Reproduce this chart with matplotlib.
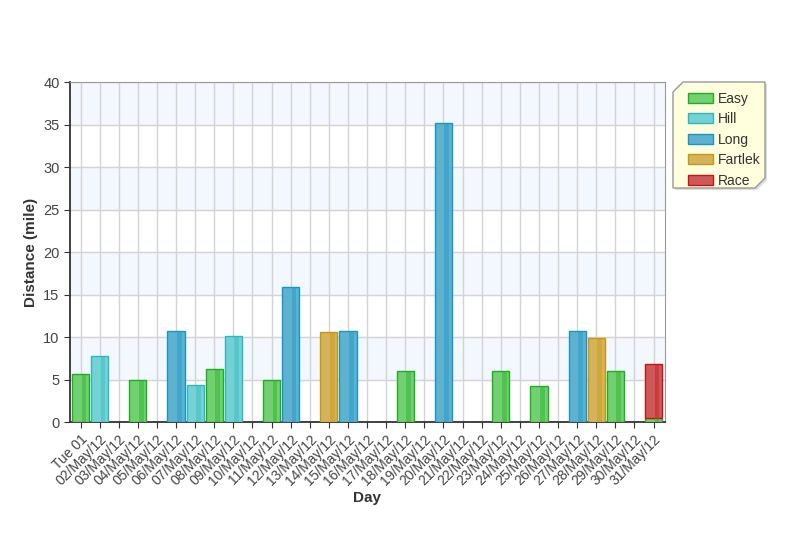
import numpy as np
import matplotlib.pyplot as plt
from matplotlib.patches import Polygon

plt.rcParams['font.family'] = ['Liberation Sans', 'DejaVu Sans']

# Distance per day (miles), by run type
days = ["Tue 01"] + ["%02d/May/12" % d for d in range(2, 32)]
easy    = [5.6, 0, 0, 5.0, 0, 0, 0, 6.2, 0, 0, 5.0, 0, 0, 0, 0, 0, 0, 5.95, 0, 0, 0, 0, 5.95, 0, 4.2, 0, 0, 0, 5.95, 0, 0.5]
hill    = [0, 7.75, 0, 0, 0, 0, 4.4, 0, 10.15, 0, 0, 0, 0, 0, 0, 0, 0, 0, 0, 0, 0, 0, 0, 0, 0, 0, 0, 0, 0, 0, 0]
long_   = [0, 0, 0, 0, 0, 10.7, 0, 0, 0, 0, 0, 15.85, 0, 0, 10.7, 0, 0, 0, 0, 35.2, 0, 0, 0, 0, 0, 0, 10.7, 0, 0, 0, 0]
fartlek = [0, 0, 0, 0, 0, 0, 0, 0, 0, 0, 0, 0, 0, 10.6, 0, 0, 0, 0, 0, 0, 0, 0, 0, 0, 0, 0, 0, 9.85, 0, 0, 0]
race    = [0, 0, 0, 0, 0, 0, 0, 0, 0, 0, 0, 0, 0, 0, 0, 0, 0, 0, 0, 0, 0, 0, 0, 0, 0, 0, 0, 0, 0, 0, 6.3]

series = [("Easy", easy, "#72d072", "#1fae1f"),
          ("Hill", hill, "#74d2d4", "#2bb8c4"),
          ("Long", long_, "#5eb2d0", "#1596c6"),
          ("Fartlek", fartlek, "#d4b35c", "#c8980a"),
          ("Race", race, "#cc5a5a", "#cc1111")]

fig = plt.figure(figsize=(8, 5.4), dpi=100)
ax = fig.add_axes([0.0875, 0.2185, 0.74375, 0.6296])

x = np.arange(len(days))
w = 0.9
bottom = np.zeros(len(days))
for name, vals, fc, ec in series:
    vals = np.array(vals)
    mask = vals > 0
    ax.bar(x[mask], vals[mask], w, bottom=bottom[mask], color=fc, edgecolor=ec,
           linewidth=1.0, zorder=3, label=name)
    # darker stripe on the right for the glossy look
    ax.bar(x[mask] + w * 0.2, vals[mask], w * 0.28, bottom=bottom[mask], color=ec,
           alpha=0.4, linewidth=0, zorder=4)
    bottom += vals

# alternating bands
for lo in range(5, 40, 10):
    ax.axhspan(lo, lo + 5, color="#f2f8fd", zorder=0)

ax.set_ylim(0, 40)
ax.set_xlim(-0.55, 30.6)
ax.set_yticks(range(0, 41, 5))
ax.set_xticks(x)
ax.set_xticklabels(days, rotation=45, ha="right", rotation_mode="anchor", fontsize=10, color="#444444")
ax.tick_params(axis="y", labelsize=10.5, labelcolor="#444444", length=4, color="#333333")
ax.tick_params(axis="x", length=4, color="#333333")
ax.grid(True, color="#d4d4d4", linewidth=1, zorder=1)
ax.set_axisbelow(True)
for s in ["top", "right"]:
    ax.spines[s].set_color("#999999")
for s in ["left", "bottom"]:
    ax.spines[s].set_color("#333333")
    ax.spines[s].set_linewidth(1.3)

ax.set_ylabel("Distance (mile)", fontsize=11, fontweight="bold", color="#333333")
ax.set_xlabel("Day", fontsize=11, fontweight="bold", color="#333333", labelpad=2)

# legend box with clipped corners
W, H = 800, 540
x0, x1, y0, y1 = 673, 765, 82, 188
c = 10
pts = [(x0 + c, y0), (x1, y0), (x1, y1 - c), (x1 - c, y1), (x0, y1), (x0, y0 + c)]
fig.patches.append(Polygon([((px + 2) / W, 1 - (py + 2) / H) for px, py in pts], closed=True,
                           transform=fig.transFigure, facecolor="#dddddd", edgecolor="none", zorder=0))
fig.patches.append(Polygon([(px / W, 1 - py / H) for px, py in pts], closed=True, transform=fig.transFigure,
                           facecolor="#ffffdd", edgecolor="#999999", linewidth=1, zorder=1))
handles, labels = ax.get_legend_handles_labels()
leg = fig.legend(handles, labels, loc="upper left", bbox_to_anchor=(682 / W, 1 - 86 / H), frameon=False,
                 fontsize=10, handlelength=1.8, handleheight=0.75, labelspacing=0.47, handletextpad=0.4,
                 borderaxespad=0)
for t in leg.get_texts():
    t.set_color("#333333")

fig.savefig("out.png", dpi=100)
